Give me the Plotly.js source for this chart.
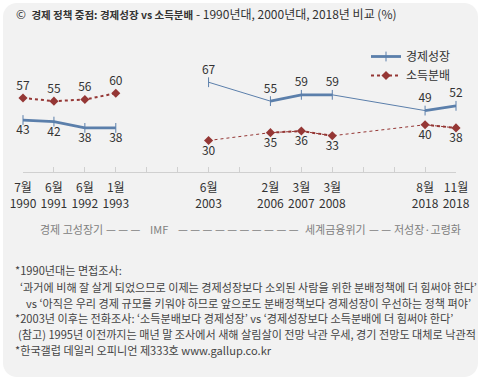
<!DOCTYPE html>
<html>
<head>
<meta charset="utf-8">
<script src="https://cdn.plot.ly/plotly-3.0.1.min.js"></script>
<style>
  html, body { margin: 0; padding: 0; background: #ffffff; }
  #bg { position: absolute; left: 3px; top: 3px; width: 475px; height: 374px; background: #f2f2f2; border-radius: 14px; }
  #chart { position: absolute; left: 0; top: 0; width: 481px; height: 381px; }
</style>
</head>
<body>
<div id="bg"></div>
<div id="chart"></div>
<script>
// ---- data ----
const xLabels = ['7월<br>1990','6월<br>1991','6월<br>1992','1월<br>1993','','','6월<br>2003','','2월<br>2006','3월<br>2007','3월<br>2008','','','8월<br>2018','11월<br>2018'];
const growth = [43, 42, 38, 38, null, null, 67, null, 55, 59, 59, null, null, 49, 52];
const distribution = [57, 55, 56, 60, null, null, 30, null, 35, 36, 33, null, null, 40, 38];
const seriesNames = ['경제성장', '소득분배'];
const firstPhoneSurvey = 6; // index of 2003 (start of phone surveys)

// ---- layout helpers ----
const W = 481, H = 381;
const M = {l: 23, r: 25, t: 46, b: 209};
const PW = W - M.l - M.r, PH = H - M.t - M.b;
const px = x => (x - M.l) / PW;
const py = y => (H - M.b - y) / PH;

const FONT = '"Noto Sans CJK KR", "Noto Sans", sans-serif';
const BLUE = '#5b7fab';
const RED = '#953735';

const idx = growth.map((_, i) => i);

function laterOnly(arr) { return arr.map((v, i) => i >= firstPhoneSurvey ? v : null); }

const traces = [
  // thin connecting lines across gaps (2000s onward)
  {x: idx, y: laterOnly(growth), mode: 'lines', connectgaps: true, showlegend: false, hoverinfo: 'skip',
   line: {color: BLUE, width: 1}},
  {x: idx, y: laterOnly(distribution), mode: 'lines', connectgaps: true, showlegend: false, hoverinfo: 'skip',
   line: {color: RED, width: 1, dash: 'dot'}},
  // main series
  {x: idx, y: growth, name: seriesNames[0], mode: 'lines+markers+text', connectgaps: false,
   line: {color: BLUE, width: 2.8},
   marker: {symbol: 'line-ns-open', size: 7, color: BLUE, line: {color: BLUE, width: 1}},
   text: growth.map(v => v === null ? '' : String(v)),
   textposition: growth.map((v, i) => i < firstPhoneSurvey ? 'bottom center' : 'top center'),
   textfont: {family: FONT, size: 12, color: '#333'}, cliponaxis: false, hoverinfo: 'skip'},
  {x: idx, y: distribution, name: seriesNames[1], mode: 'lines+markers+text', connectgaps: false,
   line: {color: RED, width: 2, dash: 'dot'},
   marker: {symbol: 'diamond', size: 7, color: RED},
   text: distribution.map(v => v === null ? '' : String(v)),
   textposition: distribution.map((v, i) => i < firstPhoneSurvey ? 'top center' : 'bottom center'),
   textfont: {family: FONT, size: 12, color: '#333'}, cliponaxis: false, hoverinfo: 'skip'}
];

const footFont = {family: FONT, size: 11.1, color: '#444'};
const notes = [
  {x: 13, y: 270, t: '*1990년대는 면접조사:'},
  {x: 18, y: 287, t: '‘과거에 비해 잘 살게 되었으므로 이제는 경제성장보다 소외된 사람을 위한 분배정책에 더 힘써야 한다’'},
  {x: 24, y: 303, t: 'vs ‘아직은 우리 경제 규모를 키워야 하므로 앞으로도 분배정책보다 경제성장이 우선하는 정책 펴야’'},
  {x: 13, y: 318, t: '*2003년 이후는 전화조사: ‘소득분배보다 경제성장’ vs ‘경제성장보다 소득분배에 더 힘써야 한다’'},
  {x: 16, y: 334, t: '(참고) 1995년 이전까지는 매년 말 조사에서 새해 살림살이 전망 낙관 우세, 경기 전망도 대체로 낙관적'},
  {x: 13, y: 350, t: '*한국갤럽 데일리 오피니언 제333호 www.gallup.co.kr'}
];
const periodFont = {family: FONT, size: 11, color: '#808080'};
const periods = [
  {x: 38, t: '경제 고성장기'},
  {x: 104, t: '— — —'},
  {x: 148, t: 'IMF'},
  {x: 176, t: '— — — — — — — — — —'},
  {x: 303, t: '세계금융위기'},
  {x: 367, t: '— —'},
  {x: 392, t: '저성장·고령화'}
];

const annotations = [
  {xref: 'paper', yref: 'paper', x: px(14), y: py(13), xanchor: 'left', yanchor: 'middle', showarrow: false,
   text: '©  <b><span style="font-size:10.5px">경제 정책 중점: 경제성장 vs 소득분배</span></b> - 1990년대, 2000년대, 2018년 비교 (%)',
   font: {family: FONT, size: 12, color: '#333'}}
];
notes.forEach(n => annotations.push({xref: 'paper', yref: 'paper', x: px(n.x), y: py(n.y), xanchor: 'left', yanchor: 'middle',
  showarrow: false, text: n.t, font: footFont}));
periods.forEach(p => annotations.push({xref: 'paper', yref: 'paper', x: px(p.x), y: py(229), xanchor: 'left', yanchor: 'middle',
  showarrow: false, text: p.t, font: periodFont}));

const layout = {
  width: W, height: H,
  margin: M,
  paper_bgcolor: 'rgba(0,0,0,0)', plot_bgcolor: 'rgba(0,0,0,0)',
  font: {family: FONT, size: 12, color: '#333'},
  showlegend: true,
  legend: {x: px(366), y: py(42), xanchor: 'left', yanchor: 'top', bgcolor: 'rgba(0,0,0,0)',
           font: {family: FONT, size: 12, color: '#333'}, tracegroupgap: 0},
  xaxis: {range: [0, 14], tickvals: idx, ticktext: xLabels, ticks: 'inside', ticklen: 5, tickcolor: '#d0d0d0',
          showline: true, linecolor: '#d0d0d0', linewidth: 1, showgrid: false, zeroline: false, fixedrange: true,
          ticklabelstandoff: 5,
          tickfont: {family: FONT, size: 12, color: '#333'}},
  yaxis: {range: [10, 90], visible: false, fixedrange: true},
  annotations: annotations
};

Plotly.newPlot('chart', traces, layout, {staticPlot: true, displayModeBar: false});
</script>
</body>
</html>
